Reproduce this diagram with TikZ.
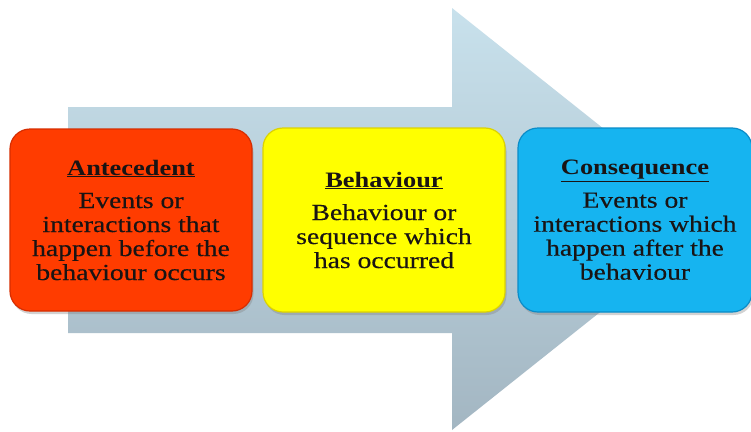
\documentclass[tikz,border=0pt]{standalone}
\usepackage{fontspec}
\setmainfont{Liberation Serif}[FakeStretch=1.2, UprightFeatures={FakeBold=0.4}]
\usetikzlibrary{shadows}
\definecolor{arrowtop}{RGB}{200,225,236}
\definecolor{arrowbot}{RGB}{163,182,194}
\definecolor{redfill}{RGB}{255,60,0}
\definecolor{redline}{RGB}{215,45,0}
\definecolor{yelfill}{RGB}{255,255,0}
\definecolor{yelline}{RGB}{220,210,0}
\definecolor{bluefill}{RGB}{22,180,240}
\definecolor{blueline}{RGB}{10,140,200}
\definecolor{txt}{RGB}{25,20,20}
\tikzset{
  card/.style={rounded corners=20pt, line width=1.2pt, align=center,
    text=txt, font=\fontsize{23}{24}\selectfont,
    drop shadow={opacity=0.35, shadow xshift=1.5pt, shadow yshift=-3pt}},
}
\newcommand{\cardtitle}[1]{{\fontsize{22}{24}\selectfont\bfseries\underline{#1}}\\[9pt]}
\begin{document}
\begin{tikzpicture}[x=1pt,y=-1pt]
\useasboundingbox (0,0) rectangle (751,431);
\fill[white] (0,0) rectangle (751,431);
\shade[top color=arrowtop,bottom color=arrowbot]
  (68,107) -- (452,107) -- (452,8) -- (717,219) -- (452,430) -- (452,333) -- (68,333) -- cycle;
\node[card, fill=redfill, draw=redline, minimum width=242pt, minimum height=182pt] (ante) at (131,220)
  {\cardtitle{Antecedent}Events or\\interactions that\\happen before the\\behaviour occurs};
\node[card, fill=yelfill, draw=yelline, minimum width=242pt, minimum height=184pt] (beh) at (384,220)
  {\cardtitle{Behaviour}Behaviour or\\sequence which\\has occurred};
\node[card, fill=bluefill, draw=blueline, minimum width=234pt, minimum height=184pt] (cons) at (635,220)
  {\cardtitle{Consequence}Events or\\interactions which\\happen after the\\behaviour};
\end{tikzpicture}
\end{document}
